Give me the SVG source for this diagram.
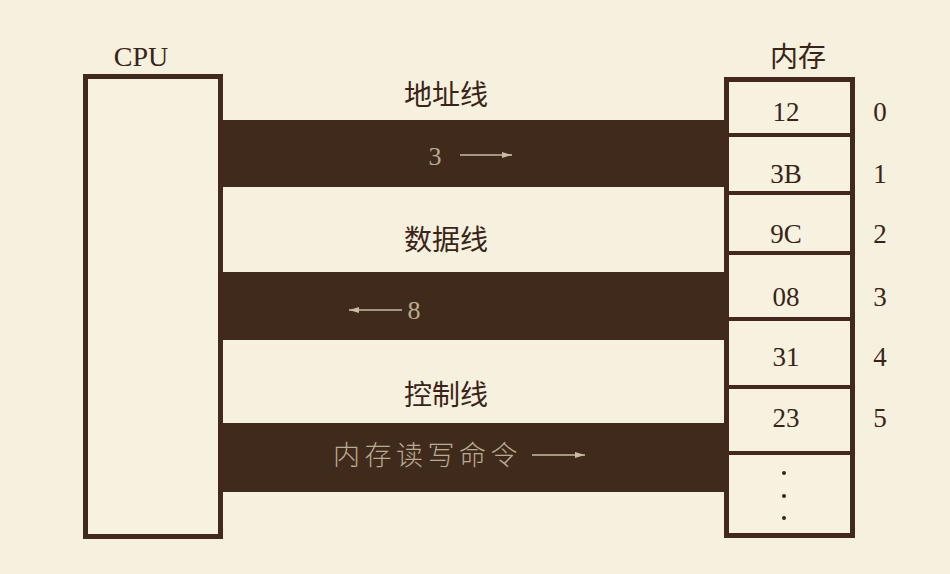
<svg xmlns="http://www.w3.org/2000/svg" width="950" height="574" viewBox="0 0 950 574">
<defs>
<style>
.bg{fill:#f6f0de}
.box{fill:#f7f1e0;stroke:#43291b;stroke-width:5}
.div{stroke:#43291b;stroke-width:4}
.bus{fill:#3f2a1b}
.num{font-family:"Liberation Serif",serif;font-size:27px;fill:#3a2417;text-anchor:middle}
.lbl{font-family:"Noto Sans CJK SC",sans-serif;font-size:28px;fill:#3a2417;text-anchor:middle}
.bt{font-family:"Liberation Serif","Noto Sans CJK SC",serif;font-size:26px;fill:#b9aa92;font-weight:300}
.cjk{font-family:"Noto Sans CJK SC",sans-serif;font-size:27px;letter-spacing:4.5px}
.arr{stroke:#c9bba4;stroke-width:1.5;fill:none}
.dot{fill:#3a2417}
</style>
<marker id="ah" viewBox="0 0 10 6" refX="10" refY="3" markerWidth="10" markerHeight="6" markerUnits="userSpaceOnUse" orient="auto">
<path d="M0,0 L10,3 L0,6 Z" fill="#c9bba4"/>
</marker>
</defs>
<rect class="bg" x="0" y="0" width="950" height="574"/>

<g id="connectors">
<g id="address-bus">
<rect class="bus" x="220" y="120" width="508" height="67"/>
<text class="lbl" x="446" y="105">地址线</text>
<text class="bt" x="435" y="165" text-anchor="middle">3</text>
<line class="arr" x1="460" y1="155" x2="512" y2="155" marker-end="url(#ah)"/>
</g>
<g id="data-bus">
<rect class="bus" x="220" y="272" width="508" height="68"/>
<text class="lbl" x="446" y="250">数据线</text>
<text class="bt" x="414" y="319" text-anchor="middle">8</text>
<line class="arr" x1="402" y1="310" x2="349" y2="310" marker-end="url(#ah)"/>
</g>
<g id="control-bus">
<rect class="bus" x="220" y="423" width="508" height="69"/>
<text class="lbl" x="446" y="405">控制线</text>
<text class="bt cjk" x="333" y="465">内存读写命令</text>
<line class="arr" x1="532" y1="455" x2="585" y2="455" marker-end="url(#ah)"/>
</g>
</g>

<g id="cpu">
<rect class="box" x="85.5" y="76.5" width="135" height="460"/>
<text class="num" x="141" y="66" style="font-size:28px">CPU</text>
</g>

<g id="memory">
<rect class="box" x="726.5" y="79.5" width="126" height="456"/>
<line class="div" x1="726" y1="135" x2="853" y2="135"/>
<line class="div" x1="726" y1="193" x2="853" y2="193"/>
<line class="div" x1="726" y1="253" x2="853" y2="253"/>
<line class="div" x1="726" y1="319" x2="853" y2="319"/>
<line class="div" x1="726" y1="387" x2="853" y2="387"/>
<line class="div" x1="726" y1="453" x2="853" y2="453"/>
<text class="lbl" x="798" y="67">内存</text>
<text class="num" x="786" y="121">12</text>
<text class="num" x="786" y="183">3B</text>
<text class="num" x="786" y="243">9C</text>
<text class="num" x="786" y="306">08</text>
<text class="num" x="786" y="366">31</text>
<text class="num" x="786" y="427">23</text>
<circle class="dot" cx="784" cy="473" r="2"/>
<circle class="dot" cx="784" cy="496" r="2"/>
<circle class="dot" cx="784" cy="518" r="2"/>
<text class="num" x="880" y="121">0</text>
<text class="num" x="880" y="183">1</text>
<text class="num" x="880" y="243">2</text>
<text class="num" x="880" y="306">3</text>
<text class="num" x="880" y="366">4</text>
<text class="num" x="880" y="427">5</text>
</g>
</svg>
